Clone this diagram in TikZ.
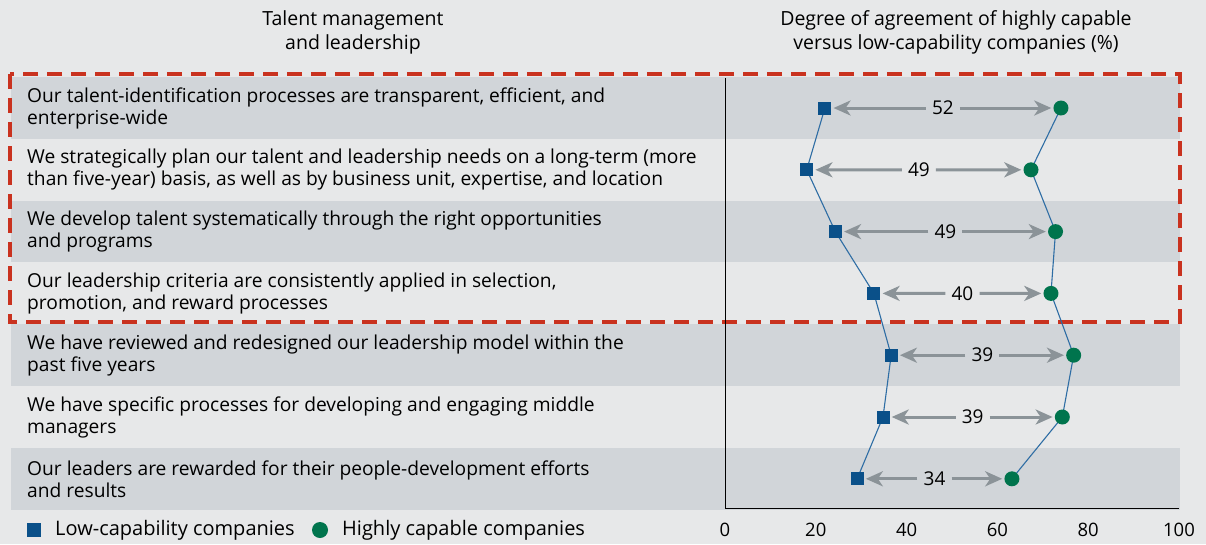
\documentclass[tikz,border=0pt]{standalone}
\usepackage{fontspec}
\setmainfont{Open Sans}
\usetikzlibrary{arrows.meta,calc}
\definecolor{bgc}{HTML}{E7E8E9}
\definecolor{bandc}{HTML}{D1D5D9}
\definecolor{redc}{HTML}{C9321F}
\definecolor{lowc}{HTML}{0A5089}
\definecolor{highc}{HTML}{00744D}
\definecolor{arrc}{HTML}{8B9398}
\definecolor{linec}{HTML}{2E6DA4}
\tikzset{
  band/.style={fill=bandc, draw=none},
  rowtext/.style={anchor=west, align=left, font=\fontsize{19.2}{22}\selectfont, inner sep=0pt},
  head/.style={align=center, font=\fontsize{19.5}{24}\selectfont, inner sep=0pt},
  tick/.style={font=\fontsize{18.5}{20}\selectfont, inner sep=0pt},
  legtext/.style={anchor=west, font=\fontsize{20}{22}\selectfont, inner sep=0pt},
  lowm/.style={fill=lowc, minimum size=13pt, inner sep=0pt, draw=none, rectangle},
  highm/.style={fill=highc, minimum size=15pt, inner sep=0pt, draw=none, circle},
  diff/.style={font=\fontsize{19}{20}\selectfont, inner xsep=6pt, inner ysep=0pt},
  arr/.style={draw=arrc, line width=3pt, -{Stealth[length=17pt, width=15pt, inset=5pt]}, shorten >=2pt},
  conn/.style={draw=linec, line width=1.1pt},
  redbox/.style={draw=redc, line width=3.5pt, dash pattern=on 15pt off 9pt},
}
\begin{document}
\begin{tikzpicture}[x=1pt,y=-1pt]
\fill[bgc] (0,0) rectangle (1206,544);
\useasboundingbox (0,0) rectangle (1206,544);
% bands
\foreach \i in {0,2,4,6} {
  \fill[band] (11,{77+61.8*\i}) rectangle (1180,{77+61.8*(\i+1)});
}
% headers
\node[head] (h1) at (353,32) {Talent management\\and leadership};
\node[head] (h2) at (956,32) {Degree of agreement of highly capable\\versus low-capability companies (\%)};
% row texts
\node[rowtext] (t1) at (27,108) {Our talent-identification processes are transparent, efficient, and\\enterprise-wide};
\node[rowtext] (t2) at (27,169.8) {We strategically plan our talent and leadership needs on a long-term (more\\than five-year) basis, as well as by business unit, expertise, and location};
\node[rowtext] (t3) at (27,231.6) {We develop talent systematically through the right opportunities\\and programs};
\node[rowtext] (t4) at (27,293.4) {Our leadership criteria are consistently applied in selection,\\promotion, and reward processes};
\node[rowtext] (t5) at (27,355.2) {We have reviewed and redesigned our leadership model within the\\past five years};
\node[rowtext] (t6) at (27,417) {We have specific processes for developing and engaging middle\\managers};
\node[rowtext] (t7) at (27,478.8) {Our leaders are rewarded for their people-development efforts\\and results};
% red dashed box
\draw[redbox] (10,74) rectangle (1180,322);
% axes
\draw[black, line width=1pt] (725,78) -- (725,508) -- (1179,508);
\foreach \v/\n in {0/a0,20/a20,40/a40,60/a60,80/a80,100/a100} {
  \node[tick] (\n) at ({725+4.54*\v},530) {\v};
}
% data
\foreach \i/\lo/\hi in {1/22/74, 2/18/67.4, 3/24.3/72.8, 4/32.8/71.8, 5/36.6/76.8, 6/34.8/74.3, 7/29.1/63.2} {
  \coordinate (s\i) at ({725+4.54*\lo},{108+61.8*(\i-1)});
  \coordinate (c\i) at ({725+4.54*\hi},{108+61.8*(\i-1)});
}
\draw[conn] (s1) -- (s2) -- (s3) -- (s4) -- (s5) -- (s6) -- (s7);
\draw[conn] (c1) -- (c2) -- (c3) -- (c4) -- (c5) -- (c6) -- (c7);
\foreach \i/\d in {1/52,2/49,3/49,4/40,5/39,6/39,7/34} {
  \node[lowm] (S\i) at (s\i) {};
  \node[highm] (C\i) at (c\i) {};
  \node[diff] (d\i) at ($(s\i)!0.5!(c\i)$) {\d};
  \draw[arr] (d\i) -- (S\i);
  \draw[arr] (d\i) -- (C\i);
}
% legend
\node[lowm, minimum size=14pt] (L1) at (34,530) {};
\node[legtext] (L1t) at (55,530) {Low-capability companies};
\node[highm, minimum size=16pt] (L2) at (320,530) {};
\node[legtext] (L2t) at (342,530) {Highly capable companies};
\end{tikzpicture}
\end{document}
